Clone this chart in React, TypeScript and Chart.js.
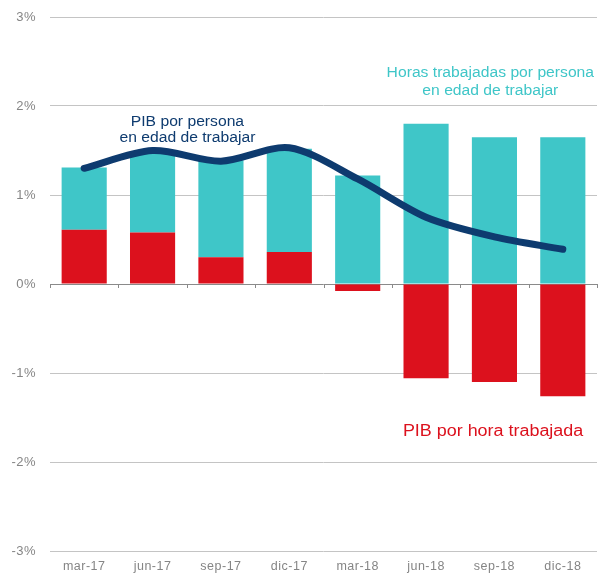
import React, { useEffect, useRef } from "react";
import { Chart, registerables } from "chart.js";

Chart.register(...registerables);

const categories = ["mar-17", "jun-17", "sep-17", "dic-17", "mar-18", "jun-18", "sep-18", "dic-18"];
const pibPorHora = [0.61, 0.58, 0.30, 0.36, -0.08, -1.06, -1.10, -1.26];
const horasPorPersona = [0.70, 0.90, 1.09, 1.16, 1.22, 1.80, 1.65, 1.65];
const pibPorPersona = [1.30, 1.50, 1.38, 1.53, 1.18, 0.75, 0.53, 0.39];

const FONT = "'Liberation Sans', Arial, sans-serif";
const NAVY = "#0e3b6f";
const CYAN = "#3fc6c8";
const RED = "#dc111d";

type Note = { lines: string[]; x: number; y: number[]; color: string; size: number };
const notes: Note[] = [
  { lines: ["PIB por persona", "en edad de trabajar"], x: 1.51, y: [1.82, 1.64], color: NAVY, size: 14 },
  { lines: ["Horas trabajadas por persona", "en edad de trabajar"], x: 5.94, y: [2.37, 2.17], color: CYAN, size: 14 },
  { lines: ["PIB por hora trabajada"], x: 5.98, y: [-1.66], color: RED, size: 16 },
];

const annotationPlugin = {
  id: "notes",
  beforeDraw(chart: any) {
    try {
      chart.ctx.letterSpacing = "0.5px";
    } catch (e) {}
  },
  afterDatasetsDraw(chart: any) {
    const { ctx, scales } = chart;
    const xs = scales.x;
    const ys = scales.y;
    ctx.save();
    try {
      ctx.letterSpacing = "0px";
    } catch (e) {}
    const y0 = ys.getPixelForValue(0);
    ctx.strokeStyle = "#8a8a8a";
    ctx.lineWidth = 1;
    ctx.beginPath();
    for (let i = 0; i <= categories.length; i++) {
      const x = Math.round(xs.getPixelForValue(i - 0.5)) + 0.5;
      ctx.moveTo(x, y0);
      ctx.lineTo(x, y0 + 4);
    }
    ctx.stroke();
    ctx.textAlign = "center";
    ctx.textBaseline = "middle";
    for (const n of notes) {
      ctx.fillStyle = n.color;
      ctx.font = `${n.size}px ${FONT}`;
      n.lines.forEach((t, i) => {
        ctx.save();
        ctx.translate(xs.getPixelForValue(n.x), ys.getPixelForValue(n.y[i]));
        ctx.scale(1.12, 1);
        ctx.fillText(t, 0, 0);
        ctx.restore();
      });
    }
    ctx.restore();
  },
};

export default function App() {
  const ref = useRef<HTMLCanvasElement | null>(null);
  useEffect(() => {
    if (!ref.current) return;
    const chart = new Chart(ref.current, {
      type: "bar",
      data: {
        labels: categories,
        datasets: [
          {
            type: "line",
            label: "PIB por persona en edad de trabajar",
            data: pibPorPersona,
            borderColor: NAVY,
            borderWidth: 7,
            pointRadius: 0,
            tension: 0.3,
            borderCapStyle: "round",
            borderJoinStyle: "round",
            stack: "line",
            order: 0,
          } as any,
          {
            type: "bar",
            label: "PIB por hora trabajada",
            data: pibPorHora,
            backgroundColor: RED,
            stack: "bars",
            order: 1,
            categoryPercentage: 1,
            barPercentage: 0.66,
          },
          {
            type: "bar",
            label: "Horas trabajadas por persona en edad de trabajar",
            data: horasPorPersona,
            backgroundColor: CYAN,
            stack: "bars",
            order: 1,
            categoryPercentage: 1,
            barPercentage: 0.66,
          },
        ],
      },
      options: {
        animation: false,
        responsive: true,
        maintainAspectRatio: false,
        layout: { autoPadding: false, padding: { top: 17, right: 1, left: 0, bottom: 0 } },
        plugins: { legend: { display: false }, tooltip: { enabled: false } },
        scales: {
          x: {
            stacked: true,
            grid: { display: false, drawTicks: false },
            border: { display: false },
            ticks: { color: "#858585", font: { family: FONT, size: 12.5 }, padding: 8, maxRotation: 0 },
            afterFit: (s: any) => {
              s.height = 23;
            },
          },
          y: {
            stacked: true,
            min: -3,
            max: 3,
            border: { display: false },
            grid: {
              color: (c: any) => (c.tick && c.tick.value === 0 ? "#8a8a8a" : "#c4c4c4"),
              drawTicks: false,
              lineWidth: 1,
            },
            ticks: {
              stepSize: 1,
              color: "#858585",
              font: { family: FONT, size: 13 },
              padding: 14,
              callback: (v: any) => `${v}%`,
            },
            afterFit: (s: any) => {
              s.width = 50;
              s.paddingTop = 7;
              s.paddingBottom = 7;
            },
          },
        },
      },
      plugins: [annotationPlugin],
    });
    return () => chart.destroy();
  }, []);
  return (
    <div style={{ position: "fixed", left: 0, top: 0, width: 598, height: 574, background: "#fff" }}>
      <canvas ref={ref} />
    </div>
  );
}
